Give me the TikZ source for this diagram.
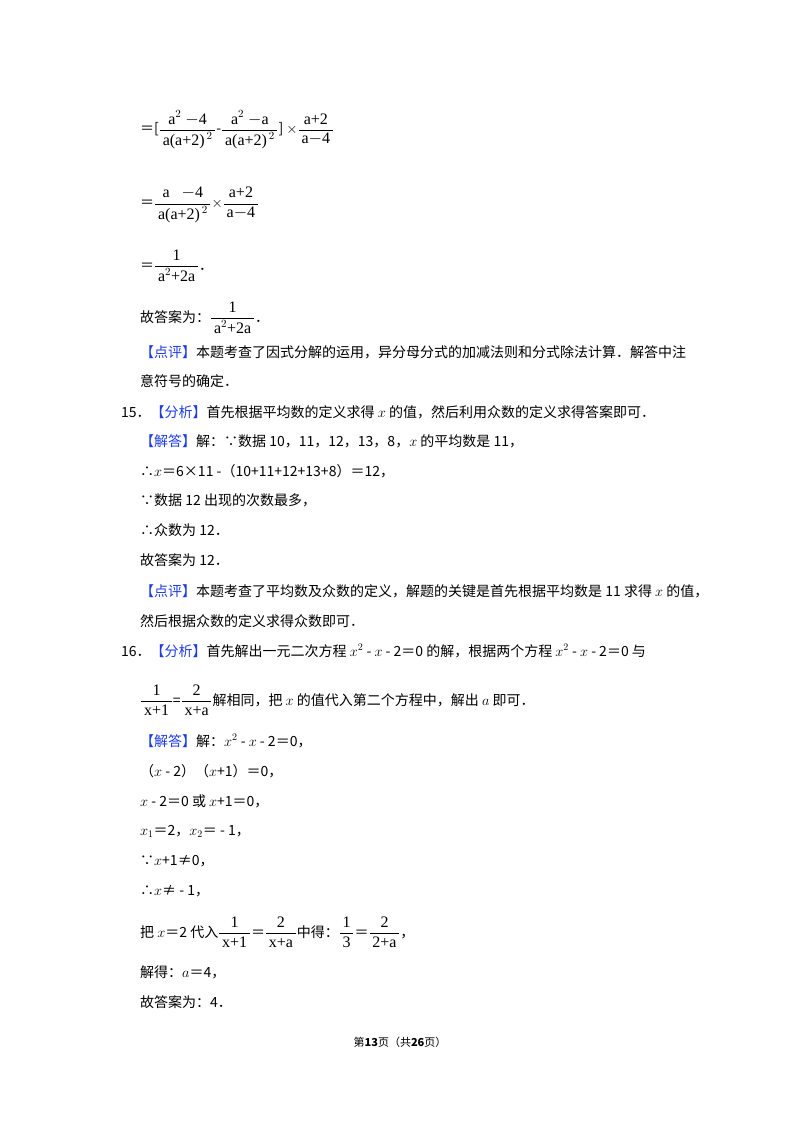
\documentclass[tikz,border=0pt]{standalone}
\usepackage{amsmath}
\usepackage{fontspec}
\setmainfont{Noto Sans CJK SC}
\newfontfamily\lat{Liberation Serif}
\definecolor{kb}{RGB}{30,60,230}
\newcommand{\fb}[1]{{\color{kb}【#1】}}
\newcommand{\fr}[2]{$\dfrac{\mbox{\lat\fontsize{16}{18}\selectfont\,#1\,}}{\mbox{\lat\fontsize{16}{18}\selectfont\,#2\,}}$}
\begin{document}
\begin{tikzpicture}[x=1pt,y=-1pt,
  ln/.style={anchor=west,inner sep=0pt,font=\fontsize{14}{17}\selectfont}]
\useasboundingbox[fill=white] (0,0) rectangle (800,1132);
\node[ln] (l1) at (140,130) {＝[\fr{a$^{2}$ $-$4}{a(a+2)$^{\,2}$}-\fr{a$^{2}$ $-$a}{a(a+2)$^{\,2}$}] $\times$\fr{a+2}{a$-$4}};
\node[ln] (l2) at (140,205) {＝\fr{a \ \ $-$4}{a(a+2)$^{\,2}$}$\times$\fr{a+2}{a$-$4}};
\node[ln] (l3) at (140,266) {＝\fr{1}{a$^{2}$+2a}．};
\node[ln] (l4) at (140,318) {故答案为：\fr{1}{a$^{2}$+2a}．};
\node[ln] (l5) at (140,352) {\fb{点评}本题考查了因式分解的运用，异分母分式的加减法则和分式除法计算．解答中注};
\node[ln] (l6) at (140,381) {意符号的确定．};
\node[ln] (l7) at (121,412) {15．\fb{分析}首先根据平均数的定义求得 $x$ 的值，然后利用众数的定义求得答案即可．};
\node[ln] (l8) at (140,441) {\fb{解答}解：∵数据 10，11，12，13，8，$x$ 的平均数是 11，};
\node[ln] (l9) at (140,471) {∴$x$＝6×11 -（10+11+12+13+8）＝12，};
\node[ln] (l10) at (140,500) {∵数据 12 出现的次数最多，};
\node[ln] (l11) at (140,530) {∴众数为 12．};
\node[ln] (l12) at (140,560) {故答案为 12．};
\node[ln] (l13) at (140,591) {\fb{点评}本题考查了平均数及众数的定义，解题的关键是首先根据平均数是 11 求得 $x$ 的值，};
\node[ln] (l14) at (140,621) {然后根据众数的定义求得众数即可．};
\node[ln] (l15) at (121,651) {16．\fb{分析}首先解出一元二次方程 $x^2$ - $x$ - 2＝0 的解，根据两个方程 $x^2$ - $x$ - 2＝0 与};
\node[ln] (l16) at (140,700) {\fr{1}{x+1}=\fr{2}{x+a}解相同，把 $x$ 的值代入第二个方程中，解出 $a$ 即可．};
\node[ln] (l17) at (140,741) {\fb{解答}解：$x^2$ - $x$ - 2＝0，};
\node[ln] (l18) at (140,771) {（$x$ - 2）（$x$+1）＝0，};
\node[ln] (l19) at (140,801) {$x$ - 2＝0 或 $x$+1＝0，};
\node[ln] (l20) at (140,831) {$x_1$＝2，$x_2$＝ - 1，};
\node[ln] (l21) at (140,861) {∵$x$+1≠0，};
\node[ln] (l22) at (140,891) {∴$x$≠ - 1，};
\node[ln] (l23) at (140,932) {把 $x$＝2 代入\fr{1}{x+1}＝\fr{2}{x+a}中得：\fr{1}{3}＝\fr{2}{2+a}，};
\node[ln] (l24) at (140,972) {解得：$a$＝4，};
\node[ln] (l25) at (140,1002) {故答案为：4．};
\node[anchor=center,inner sep=0pt,font=\fontsize{11}{13}\selectfont] (ft) at (400,1042) {第\textbf{13}页（共\textbf{26}页）};
\end{tikzpicture}
\end{document}
